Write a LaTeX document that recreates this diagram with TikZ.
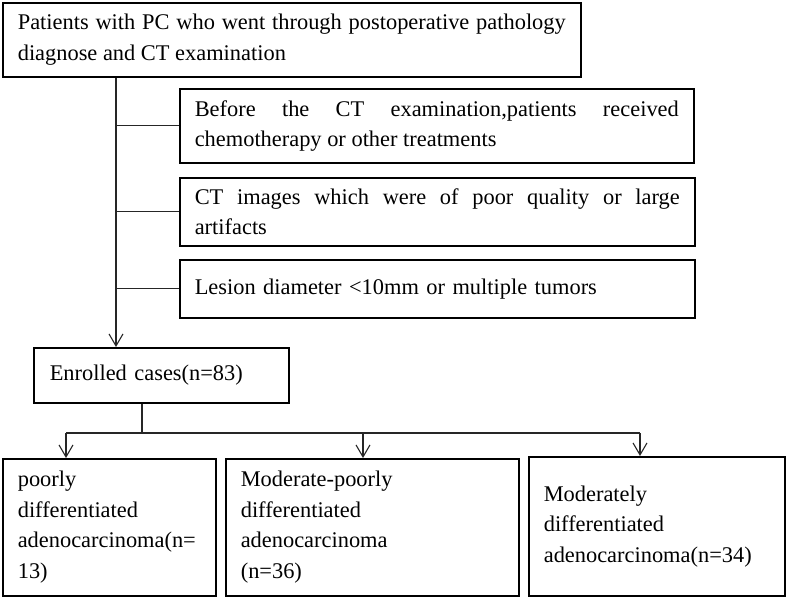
\documentclass[tikz,border=0pt]{standalone}
\usepackage{fontspec}
\setmainfont{Liberation Serif}
\usetikzlibrary{arrows.meta}

\begin{document}
\begin{tikzpicture}[x=1pt, y=-1pt]

% Set the overall size of the picture
\useasboundingbox (0,0) rectangle (787,598);

% Define styles for boxes and connectors
\tikzstyle{box}=[draw=black, line width=1.6pt, anchor=north west, inner xsep=15pt, inner ysep=0pt, align=left, font=\fontsize{22.4}{30.5}\selectfont]
\tikzstyle{flow}=[line width=1.1pt, draw=black!85]
\tikzstyle{flowarrow}=[flow, -{Straight Barb[length=12pt, width=14pt]}]

% Patients and exclusion boxes
\node[box, text width=548pt, minimum height=74pt, align=justify] (top) at (2,2) {Patients with PC who went through postoperative pathology\linebreak diagnose and CT examination};
\node[box, text width=484pt, minimum height=74pt, align=justify] (ex1) at (179,88) {Before the CT examination,patients received\linebreak chemotherapy or other treatments};
\node[box, text width=485pt, minimum height=68pt, align=justify] (ex2) at (179,177) {CT images which were of poor quality or large\linebreak artifacts};
\node[box, text width=485pt, minimum height=58pt] (ex3) at (179,259) {Lesion diameter <10mm or multiple tumors};

% Enrolled and groups
\node[box, text width=223pt, minimum height=55pt, inner xsep=16pt] (enrolled) at (33,347) {Enrolled cases(n=83)};
\node[box, text width=183pt, minimum height=137pt] (poor) at (2,458) {poorly\\ differentiated\\ adenocarcinoma(n=\\ 13)};
\node[box, text width=263pt, minimum height=137pt] (modpoor) at (225,458) {Moderate-poorly\\ differentiated\\ adenocarcinoma\\ (n=36)};
\node[box, text width=226pt, minimum height=139pt] (moder) at (528,456) {Moderately\\ differentiated\\ adenocarcinoma(n=34)};

% Connectors
\coordinate (trunk) at (116,0);
\draw[flowarrow] (trunk |- top.south) -- (trunk |- enrolled.north);
\foreach \n in {ex1,ex2,ex3}
  \draw[flow] (trunk |- \n.west) -- (\n.west);

\coordinate (split) at (142,433);
\coordinate (left) at (66,433);
\coordinate (mid) at (363,433);
\coordinate (right) at (640,433);
\draw[flow] (split |- enrolled.south) -- (split);
\draw[flow] (left) -- (right);
\draw[flowarrow] (left) -- (left |- poor.north);
\draw[flowarrow] (mid) -- (mid |- modpoor.north);
\draw[flowarrow] (right) -- (right |- moder.north);

\end{tikzpicture}
\end{document}
